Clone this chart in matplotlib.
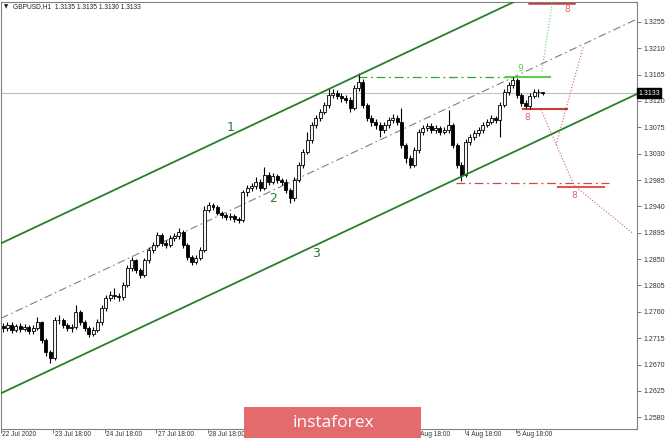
import numpy as np
import matplotlib.pyplot as plt
from matplotlib.patches import Rectangle

# GBPUSD H1 - velas agrupadas de 2 horas (hora 0 = 22 Jul 2020)
first_open = 1.2735
closes = [1.2732, 1.2737, 1.2729, 1.2735, 1.2730, 1.2734, 1.2727, 1.2732, 1.2742, 1.2712,
          1.2691, 1.2681, 1.2746, 1.2746, 1.2737, 1.2732, 1.2734, 1.2759, 1.2742, 1.2732,
          1.2722, 1.2729, 1.2742, 1.2766, 1.2783, 1.2788, 1.2787, 1.2785, 1.2806, 1.2835,
          1.2848, 1.2831, 1.2823, 1.2848, 1.2865, 1.2874, 1.2891, 1.2877, 1.2874, 1.2886,
          1.2889, 1.2896, 1.2874, 1.2853, 1.2845, 1.2852, 1.2865, 1.2934, 1.2942, 1.2939,
          1.2929, 1.2925, 1.2922, 1.2923, 1.2918, 1.2917, 1.2964, 1.2971, 1.2975, 1.2982,
          1.2971, 1.2994, 1.2982, 1.2992, 1.2985, 1.2982, 1.2968, 1.2954, 1.2985, 1.3011,
          1.3033, 1.3053, 1.3079, 1.3091, 1.3101, 1.3113, 1.3130, 1.3134, 1.3129, 1.3125,
          1.3122, 1.3108, 1.3142, 1.3152, 1.3113, 1.3091, 1.3084, 1.3079, 1.3070, 1.3079,
          1.3088, 1.3091, 1.3084, 1.3045, 1.3023, 1.3011, 1.3036, 1.3067, 1.3074, 1.3077,
          1.3070, 1.3074, 1.3067, 1.3070, 1.3079, 1.3045, 1.3011, 1.2994, 1.3050, 1.3058,
          1.3065, 1.3070, 1.3079, 1.3084, 1.3091, 1.3088, 1.3113, 1.3135, 1.3147, 1.3156,
          1.3130, 1.3117, 1.3111, 1.3129, 1.3135, 1.3135, 1.3133]
highs = [1.2741, 1.2743, 1.2742, 1.2740, 1.2741, 1.2739, 1.2738, 1.2737, 1.2752, 1.2745,
         1.2716, 1.2695, 1.2752, 1.2754, 1.2750, 1.2741, 1.2739, 1.2771, 1.2763, 1.2746,
         1.2736, 1.2734, 1.2747, 1.2771, 1.2789, 1.2795, 1.2800, 1.2792, 1.2811, 1.2840,
         1.2853, 1.2851, 1.2835, 1.2852, 1.2870, 1.2879, 1.2896, 1.2894, 1.2882, 1.2891,
         1.2894, 1.2903, 1.2899, 1.2877, 1.2857, 1.2857, 1.2871, 1.2940, 1.2947, 1.2946,
         1.2943, 1.2933, 1.2929, 1.2928, 1.2927, 1.2922, 1.2968, 1.2977, 1.2980, 1.2990,
         1.2986, 1.3007, 1.2998, 1.2997, 1.2996, 1.2989, 1.2986, 1.2972, 1.2990, 1.3016,
         1.3038, 1.3067, 1.3084, 1.3096, 1.3106, 1.3119, 1.3142, 1.3140, 1.3139, 1.3134,
         1.3130, 1.3127, 1.3148, 1.3168, 1.3158, 1.3117, 1.3096, 1.3090, 1.3084, 1.3084,
         1.3093, 1.3097, 1.3096, 1.3108, 1.3049, 1.3027, 1.3041, 1.3072, 1.3079, 1.3083,
         1.3082, 1.3079, 1.3078, 1.3075, 1.3105, 1.3083, 1.3049, 1.3016, 1.3055, 1.3063,
         1.3070, 1.3075, 1.3084, 1.3089, 1.3096, 1.3095, 1.3118, 1.3140, 1.3152, 1.3161,
         1.3160, 1.3134, 1.3121, 1.3134, 1.3140, 1.3140, 1.3135]
lows = [1.2726, 1.2727, 1.2724, 1.2725, 1.2726, 1.2727, 1.2722, 1.2723, 1.2729, 1.2706,
        1.2685, 1.2672, 1.2678, 1.2739, 1.2732, 1.2727, 1.2726, 1.2731, 1.2737, 1.2727,
        1.2717, 1.2719, 1.2726, 1.2738, 1.2762, 1.2779, 1.2782, 1.2779, 1.2781, 1.2802,
        1.2830, 1.2826, 1.2817, 1.2819, 1.2843, 1.2860, 1.2870, 1.2872, 1.2869, 1.2870,
        1.2881, 1.2884, 1.2869, 1.2848, 1.2840, 1.2841, 1.2848, 1.2862, 1.2930, 1.2934,
        1.2925, 1.2920, 1.2917, 1.2917, 1.2913, 1.2911, 1.2914, 1.2958, 1.2966, 1.2970,
        1.2966, 1.2968, 1.2977, 1.2978, 1.2980, 1.2976, 1.2963, 1.2946, 1.2950, 1.2981,
        1.3006, 1.3029, 1.3049, 1.3074, 1.3086, 1.3097, 1.3108, 1.3125, 1.3124, 1.3119,
        1.3116, 1.3101, 1.3104, 1.3137, 1.3108, 1.3086, 1.3078, 1.3073, 1.3058, 1.3065,
        1.3074, 1.3083, 1.3079, 1.3040, 1.3014, 1.3005, 1.3007, 1.3032, 1.3062, 1.3069,
        1.3065, 1.3066, 1.3062, 1.3063, 1.3066, 1.3040, 1.3005, 1.2983, 1.2990, 1.3045,
        1.3053, 1.3060, 1.3065, 1.3075, 1.3080, 1.3083, 1.3058, 1.3109, 1.3130, 1.3142,
        1.3125, 1.3112, 1.3108, 1.3107, 1.3125, 1.3127, 1.3130]
bar_hours = 2

# canal: extremos (hora, precio)
channel_t = [0, 297]
lower_p = [1.2621, 1.3132]
upper_p = [1.2877, 1.3388]
middle_p = [1.2749, 1.3260]

# niveles horizontales
peak_level = 1.3161
peak_dash_t = [166.7, 236.0]
peak_solid_t = [236.0, 256.3]
top_red_level = 1.3288
top_red_t = [246.6, 267.6]
mid_red_level = 1.3106
mid_red_t = [243.7, 264.3]
low_dash_level = 1.2980
low_dash_t = [212.5, 284.0]
low_red_level = 1.2973
low_red_t = [260.0, 281.6]

# proyecciones punteadas
green_dot_t = [252.5, 257.5]
green_dot_p = [1.3170, 1.3289]
red_dot1_t = [252.2, 267.6, 295.1]
red_dot1_p = [1.3105, 1.2976, 1.2894]
red_dot2_t = [259.2, 271.8]
red_dot2_p = [1.3045, 1.3212]

price_ticks = [1.2580, 1.2625, 1.2670, 1.2715, 1.2760, 1.2805, 1.2850, 1.2895, 1.2940,
               1.2985, 1.3030, 1.3075, 1.3120, 1.3165, 1.3210, 1.3255]
time_ticks = [0, 24.5, 48.5, 72.5, 96.5, 120.5, 144.5, 168.5, 192.5, 216.5, 240.5]
time_labels = ['22 Jul 2020', '23 Jul 18:00', '24 Jul 18:00', '27 Jul 18:00', '28 Jul 18:00',
               '29 Jul 18:00', '30 Jul 18:00', '31 Jul 18:00', '3 Aug 18:00', '4 Aug 18:00',
               '5 Aug 18:00']
last_price = 1.3133

W, H = 665, 438
fig = plt.figure(figsize=(W / 100, H / 100), dpi=100)
ax = fig.add_axes([1 / W, 9 / H, 636 / W, 427 / H])
ax.set_xlim(0, 297)
ax.set_ylim(1.2560, 1.3289)

opens = np.array([first_open] + closes[:-1])
closes = np.array(closes)
t = np.arange(len(closes)) * bar_hours + 1

# velas
ax.vlines(t, lows, highs, color='black', linewidth=0.8, zorder=3)
up = closes >= opens
body_lo = np.minimum(opens, closes)
body_h = np.maximum(np.abs(closes - opens), 0.00008)
ax.bar(t[up], body_h[up], bottom=body_lo[up], width=1.4, color='#f4f4f4',
       edgecolor='black', linewidth=0.6, zorder=4)
ax.bar(t[~up], body_h[~up], bottom=body_lo[~up], width=1.4, color='black',
       edgecolor='black', linewidth=0.6, zorder=4)

# precio actual
ax.axhline(last_price, color='#c0c0c0', linewidth=0.8, zorder=1)

# canal
green = '#2a7d2a'
ax.plot(channel_t, lower_p, color=green, linewidth=1.3, zorder=5)
ax.plot(channel_t, upper_p, color=green, linewidth=1.3, zorder=5)
ax.plot(channel_t, middle_p, color='#808080', linewidth=0.8, dashes=(7, 3, 1.5, 3), zorder=2)
ax.text(107, 1.3074, '1', color=green, fontsize=9, ha='center', va='center')
ax.text(127, 1.2954, '2', color=green, fontsize=9, ha='center', va='center')
ax.text(147, 1.2860, '3', color=green, fontsize=9, ha='center', va='center')

# niveles
lgreen = '#5ccc4c'
red = '#cc3a3a'
ax.plot(peak_dash_t, [peak_level] * 2, color='#2faa2f', linewidth=0.9, dashes=(7, 3, 1.5, 3))
ax.plot(peak_solid_t, [peak_level] * 2, color=lgreen, linewidth=1.5)
ax.text(242.4, 1.3176, '9', color=lgreen, fontsize=6.5, ha='center', va='center')
ax.plot(top_red_t, [top_red_level] * 2, color=red, linewidth=1.8, clip_on=False)
ax.text(264.3, 1.3277, '8', color='#dd6666', fontsize=6.5, ha='center', va='center')
ax.plot(mid_red_t, [mid_red_level] * 2, color=red, linewidth=1.5)
ax.text(245.7, 1.3091, '8', color='#dd6666', fontsize=6.5, ha='center', va='center')
ax.plot(low_dash_t, [low_dash_level] * 2, color='#d04848', linewidth=0.9, dashes=(7, 3, 1.5, 3))
ax.plot(low_red_t, [low_red_level] * 2, color='#dd5555', linewidth=1.5)
ax.text(267.6, 1.2958, '8', color='#dd6666', fontsize=6.5, ha='center', va='center')

ax.plot(green_dot_t, green_dot_p, color='#66cc66', linewidth=0.8, linestyle=':')
ax.plot(red_dot1_t, red_dot1_p, color='#cc6666', linewidth=0.8, linestyle=':')
ax.plot(red_dot2_t, red_dot2_p, color='#cc6666', linewidth=0.8, linestyle=':')

# ejes estilo MT4
for s in ax.spines.values():
    s.set_color('#808080')
    s.set_linewidth(0.8)
ax.yaxis.tick_right()
ax.set_yticks(price_ticks)
ax.set_yticklabels(['%.4f' % p for p in price_ticks], fontsize=5, color='#333333',
                   family='Liberation Sans')
ax.tick_params(axis='y', length=3, width=0.6, color='#666666', pad=1.5)
ax.set_xticks(time_ticks)
ax.set_xticklabels([])
ax.tick_params(axis='x', length=3, width=0.6, color='#666666')
for tt, lab in zip(time_ticks, time_labels):
    ax.annotate(lab, (tt, 0), xycoords=ax.get_xaxis_transform(), xytext=(1, -1.2),
                textcoords='offset points', fontsize=4.8, family='Liberation Sans',
                color='#333333', ha='left', va='top', annotation_clip=False)

ax.text(1.002, last_price, '1.3133', transform=ax.get_yaxis_transform(), fontsize=5,
        family='Liberation Sans', color='white', va='center', ha='left', zorder=10,
        bbox=dict(boxstyle='square,pad=0.2', facecolor='black', edgecolor='black'))

fig.text(4 / W, 1 - 7 / H, '\u25BC', fontsize=4, color='#222222', va='center', ha='left')
fig.text(13 / W, 1 - 7 / H, 'GBPUSD,H1  1.3135 1.3135 1.3130 1.3133', fontsize=4.8,
         family='Liberation Sans', color='#222222', va='center', ha='left')

# marca de agua
fig.patches.append(Rectangle((244 / W, 0), 177 / W, 31 / H, transform=fig.transFigure,
                             facecolor='#e36b6d', edgecolor='none', zorder=20))
fig.text(333 / W, 15 / H, 'instaforex', fontsize=12.5, color='white', family='Open Sans',
         ha='center', va='center', zorder=21)

fig.savefig('out.png', dpi=100, facecolor='white')
